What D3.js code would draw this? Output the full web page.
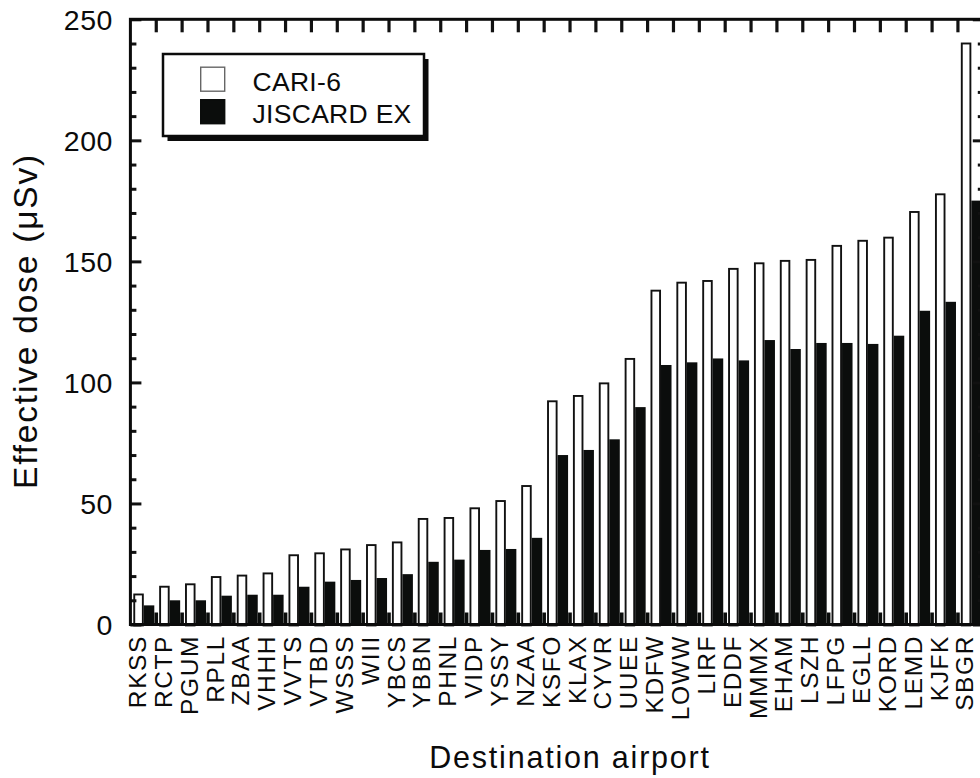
<!DOCTYPE html>
<html>
<head>
<meta charset="utf-8">
<script src="https://cdn.jsdelivr.net/npm/d3@7"></script>
<style>
  html, body { margin: 0; padding: 0; background: #fff; }
  svg { display: block; }
  text { font-family: "Liberation Sans", Arial, Helvetica, sans-serif; fill: #0b0b0b; }
</style>
</head>
<body>
<svg id="chart" width="980" height="778"></svg>
<script>
// ---- data ----
const airports = ["RKSS","RCTP","PGUM","RPLL","ZBAA","VHHH","VVTS","VTBD","WSSS","WIII","YBCS","YBBN","PHNL","VIDP","YSSY","NZAA","KSFO","KLAX","CYVR","UUEE","KDFW","LOWW","LIRF","EDDF","MMMX","EHAM","LSZH","LFPG","EGLL","KORD","LEMD","KJFK","SBGR"];
const cari6 = [12.8,16.0,17.0,20.0,20.6,21.5,29.0,29.8,31.4,33.2,34.3,44.0,44.4,48.4,51.4,57.6,92.6,94.8,100.0,110.1,138.3,141.6,142.3,147.3,149.6,150.6,151.0,156.8,158.9,160.2,170.8,178.1,240.4];
const jiscard = [7.9,10.0,10.0,11.9,12.3,12.3,15.6,17.7,18.4,19.2,20.8,25.9,26.8,30.8,31.2,35.8,70.0,72.1,76.5,89.8,107.2,108.3,109.9,109.1,117.5,113.8,116.3,116.3,115.9,119.3,129.6,133.3,175.1];
const seriesNames = ["CARI-6","JISCARD EX"];
const yMajorTicks = [0,50,100,150,200,250];
const yMinorTicks = [10,20,30,40,60,70,80,90,110,120,130,140,160,170,180,190,210,220,230,240];
const xTitle = "Destination airport";
const yTitle = "Effective dose (\u03BCSv)";

(function () {
// ---- layout ----
const svg = d3.select("#chart");
const pLeft = 130.4, pRight = 983.8, pTop = 19.3, pBottom = 624.5;
const barBlack = "#0b0d0c";

const x = d3.scaleBand().domain(airports).range([pLeft, pRight]).padding(0);
const xs = d3.scaleBand().domain(seriesNames).range([2.9, 23.9]).padding(0);
const y = d3.scaleLinear().domain([0, 250]).range([pBottom, pTop]);

const rows = airports.map((a, i) => ({ a, v: [cari6[i], jiscard[i]] }));

// bars
const g = svg.append("g");
const sw = 1.9;
g.selectAll("rect.cari").data(rows).join("rect")
  .attr("class", "cari")
  .attr("x", d => x(d.a) + xs(seriesNames[0]) + sw / 2)
  .attr("width", xs.bandwidth() - sw)
  .attr("y", d => y(d.v[0]) + sw / 2)
  .attr("height", d => y(0) - y(d.v[0]))
  .attr("fill", "#fff")
  .attr("stroke", "#111")
  .attr("stroke-width", sw);
g.selectAll("rect.jis").data(rows).join("rect")
  .attr("class", "jis")
  .attr("x", d => x(d.a) + xs(seriesNames[1]))
  .attr("width", xs.bandwidth())
  .attr("y", d => y(d.v[1]))
  .attr("height", d => y(0) - y(d.v[1]))
  .attr("fill", barBlack);

// top & bottom category boundary ticks (inward)
const bounds = airports.slice(1).map(a => x(a));
svg.append("g").selectAll("line").data(bounds).join("line")
  .attr("x1", d => d).attr("x2", d => d)
  .attr("y1", pTop).attr("y2", pTop + 13)
  .attr("stroke", "#111").attr("stroke-width", 3.2);
svg.append("g").selectAll("line").data(bounds).join("line")
  .attr("x1", d => d).attr("x2", d => d)
  .attr("y1", pBottom).attr("y2", pBottom - 12)
  .attr("stroke", barBlack).attr("stroke-width", 3.6);

// y axes (inward ticks)
function styleAxis(sel) {
  sel.select(".domain").remove();
  sel.selectAll(".tick line").attr("stroke", "#111").attr("stroke-width", 3);
}
const yAxisL = svg.append("g").attr("transform", `translate(${pLeft},0)`)
  .call(d3.axisLeft(y).tickValues(yMajorTicks).tickSize(-11).tickPadding(0).tickFormat(d3.format("d")))
  .call(styleAxis);
yAxisL.selectAll(".tick text")
  .attr("x", -17.5).attr("dy", "0.36em")
  .style("font-size", "28.5px").style("letter-spacing", "0.5px")
  .attr("fill", "#0b0b0b");
svg.append("g").attr("transform", `translate(${pLeft},0)`)
  .call(d3.axisLeft(y).tickValues(yMinorTicks).tickSize(-6).tickFormat(""))
  .call(styleAxis);
svg.append("g").attr("transform", `translate(${pRight},0)`)
  .call(d3.axisRight(y).tickValues(yMajorTicks).tickSize(-11).tickFormat(""))
  .call(styleAxis);
svg.append("g").attr("transform", `translate(${pRight},0)`)
  .call(d3.axisRight(y).tickValues(yMinorTicks).tickSize(-6).tickFormat(""))
  .call(styleAxis);

// frame
svg.append("rect")
  .attr("x", pLeft).attr("y", pTop)
  .attr("width", pRight - pLeft).attr("height", pBottom - pTop)
  .attr("fill", "none").attr("stroke", "#0b0b0b").attr("stroke-width", 3);

// x category labels
const xAxis = svg.append("g").attr("transform", `translate(0,${pBottom})`)
  .call(d3.axisBottom(x).tickSize(0));
xAxis.select(".domain").remove();
xAxis.selectAll(".tick text")
  .attr("transform", "rotate(-90)")
  .attr("x", -10.5).attr("y", -6.2).attr("dy", "0.36em")
  .attr("text-anchor", "end")
  .style("font-size", "24.5px").style("letter-spacing", "1.6px")
  .attr("fill", "#0b0b0b");

// axis titles
svg.append("text")
  .attr("transform", "translate(36.5,321) rotate(-90)")
  .attr("text-anchor", "middle")
  .style("font-size", "33.5px").style("letter-spacing", "1.8px")
  .text(yTitle);
svg.append("text")
  .attr("x", 570).attr("y", 768.3)
  .attr("text-anchor", "middle")
  .style("font-size", "30.5px").style("letter-spacing", "1.8px")
  .text(xTitle);

// legend
const lg = svg.append("g");
lg.append("rect").attr("x", 167.5).attr("y", 59).attr("width", 261).attr("height", 82).attr("fill", "#0b0b0b");
lg.append("rect").attr("x", 163).attr("y", 54).attr("width", 261).attr("height", 82)
  .attr("fill", "#fff").attr("stroke", "#0b0b0b").attr("stroke-width", 2.5);
const legItems = lg.selectAll("g.item").data(seriesNames).join("g").attr("class", "item")
  .attr("transform", (d, i) => `translate(0,${i * 32.5})`);
legItems.append("rect")
  .attr("x", 200.7).attr("y", 67.2).attr("width", 24).attr("height", 24)
  .attr("fill", (d, i) => i === 0 ? "#fff" : barBlack)
  .attr("stroke", (d, i) => i === 0 ? "#666" : barBlack)
  .attr("stroke-width", 1.4);
legItems.append("text")
  .attr("x", 252.5).attr("y", 90.5)
  .style("font-size", "26.5px").style("letter-spacing", "0.3px")
  .text(d => d);
})();
</script>
</body>
</html>
